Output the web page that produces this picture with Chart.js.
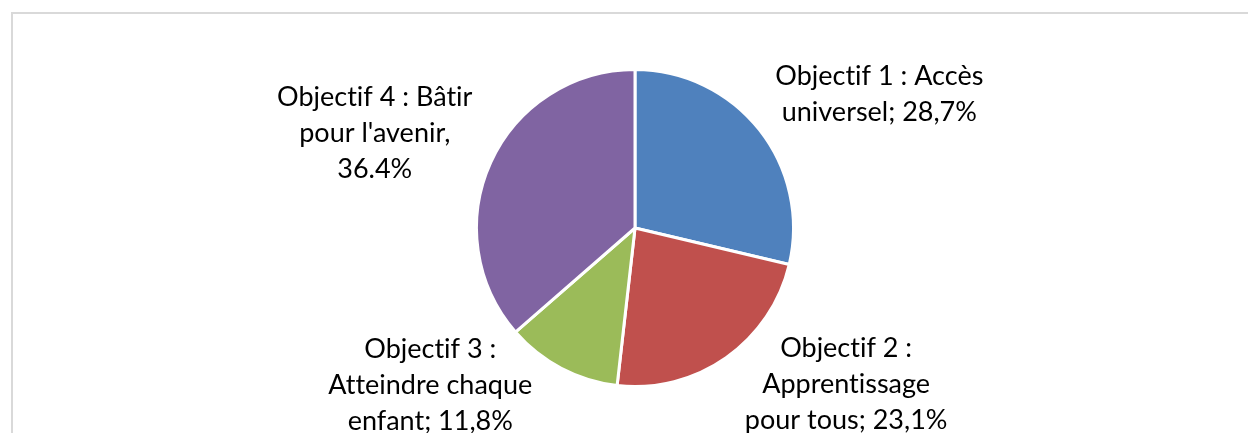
<!DOCTYPE html>
<html>
<head>
<meta charset="utf-8">
<script src="https://cdn.jsdelivr.net/npm/chart.js@4.4.1/dist/chart.umd.min.js"></script>
<style>
    html, body { margin: 0; padding: 0; background: #fff; }
    #wrap { position: relative; width: 1248px; height: 433px; overflow: hidden; }
    #frame {
        position: absolute; left: 11px; top: 12px; width: 1300px; height: 500px;
        border-top: 2px solid #d9d9d9; border-left: 2px solid #d9d9d9;
    }
    #pieChart { position: absolute; left: 0; top: 0; }
</style>
</head>
<body>
<div id="wrap">
    <div id="frame"></div>
    <canvas id="pieChart" width="1248" height="433"></canvas>
</div>
<script>
const categories = [
    'Objectif 1 : Accès universel',
    'Objectif 2 : Apprentissage pour tous',
    'Objectif 3 : Atteindre chaque enfant',
    'Objectif 4 : Bâtir pour l\'avenir'
];
const values = [28.7, 23.1, 11.8, 36.4];
const labelLines = [
    ['Objectif 1 : Accès', 'universel; 28,7%'],
    ['Objectif 2 :', 'Apprentissage', 'pour tous; 23,1%'],
    ['Objectif 3 :', 'Atteindre chaque', 'enfant; 11,8%'],
    ['Objectif 4 : Bâtir', 'pour l\'avenir,', '36.4%']
];
const colors = ['#4f81bd', '#c0504d', '#9bbb59', '#8064a2'];

// décalage du bloc de texte par rapport au bord de la part
const labelOffsets = [[120, -35], [120, 27], [-131, 17], [-116, -29]];

const pieLabels = {
    id: 'pieLabels',
    afterDatasetsDraw(chart) {
        const ctx = chart.ctx;
        const arcs = chart.getDatasetMeta(0).data;
        ctx.save();
        ctx.font = '27px Lato, "Open Sans", sans-serif';
        ctx.textRendering = 'optimizeSpeed';   // pas de ligatures "fi"/"ti"
        ctx.fillStyle = '#000';
        ctx.textAlign = 'center';
        ctx.textBaseline = 'middle';
        const lh = 36;
        arcs.forEach((arc, i) => {
            const p = arc.getProps(['x', 'y', 'startAngle', 'endAngle', 'outerRadius'], true);
            const mid = (p.startAngle + p.endAngle) / 2;
            const ax = p.x + Math.cos(mid) * p.outerRadius + labelOffsets[i][0];
            const ay = p.y + Math.sin(mid) * p.outerRadius + labelOffsets[i][1];
            const lines = labelLines[i];
            const top = ay - (lines.length - 1) * lh / 2;
            lines.forEach((l, j) => ctx.fillText(l, ax, top + j * lh));
        });
        ctx.restore();
    }
};

new Chart(document.getElementById('pieChart'), {
    type: 'pie',
    data: {
        labels: categories,
        datasets: [{
            data: values,
            backgroundColor: colors,
            borderColor: '#fff',
            borderWidth: 3,
            hoverOffset: 0
        }]
    },
    options: {
        responsive: false,
        animation: false,
        layout: { padding: { top: 68, bottom: 45, left: 22, right: 0 } },
        plugins: {
            legend: { display: false },
            tooltip: { enabled: false }
        }
    },
    plugins: [pieLabels]
});
</script>
</body>
</html>
